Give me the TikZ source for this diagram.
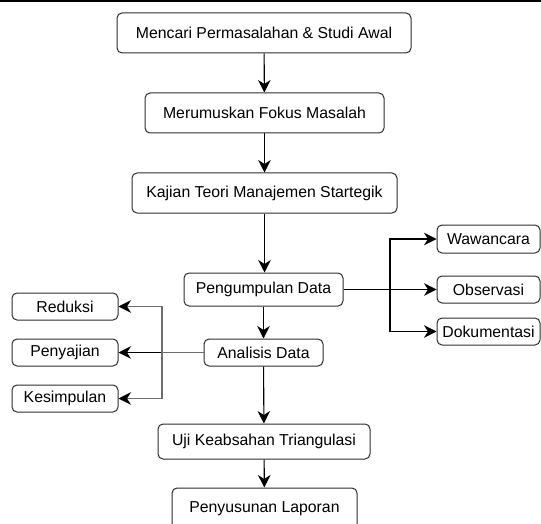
\documentclass[tikz,border=0pt]{standalone}
\usepackage{fontspec}
\setmainfont{Liberation Sans}
\usepackage{xcolor}
\usepackage{tikz}
\usetikzlibrary{arrows.meta,positioning}
\definecolor{boxline}{HTML}{2E2E2E}
\definecolor{grayline}{HTML}{6E6E6E}

\begin{document}
\begin{tikzpicture}[
 x=1pt,y=-1pt,
 font=\fontsize{15.8}{18}\selectfont,
 box/.style={draw=boxline,fill=white,line width=1pt,rounded corners=5pt,inner sep=0pt,align=center},
 arr/.style={-{Stealth[length=12.5pt,width=12.5pt,inset=4pt,color=black]},line width=1.1pt,draw=black},
 garr/.style={arr,draw=grayline}
]
\useasboundingbox (0,0) rectangle (541,524);
\fill[black] (0,0) rectangle (541,2.5);
% main column
\node[box,minimum width=294pt,minimum height=40pt] (mencari) at (264,33) {Mencari Permasalahan \& Studi Awal};
\node[box,minimum width=239pt,minimum height=40pt] (rumus) at (264.5,113) {Merumuskan Fokus Masalah};
\node[box,minimum width=265pt,minimum height=40pt] (kajian) at (264.5,193) {Kajian Teori Manajemen Startegik};
\node[box,minimum width=159pt,minimum height=33pt] (kumpul) at (263.5,289.5) {Pengumpulan Data};
\node[box,minimum width=119pt,minimum height=27pt] (analisis) at (263.5,352.5) {Analisis Data};
\node[box,minimum width=212pt,minimum height=35pt] (uji) at (264,441.5) {Uji Keabsahan Triangulasi};
\node[box,minimum width=185pt,minimum height=42pt] (susun) at (264.5,509) {Penyusunan Laporan};
% teknik pengumpulan
\node[box,minimum width=103pt,minimum height=28pt] (wawan) at (488.5,239) {Wawancara};
\node[box,minimum width=103pt,minimum height=27pt] (obs) at (488.5,289.5) {Observasi};
\node[box,minimum width=103pt,minimum height=27pt] (dok) at (488.5,331.5) {Dokumentasi};
% tahap analisis
\node[box,minimum width=106pt,minimum height=27pt] (reduksi) at (65,306.5) {Reduksi};
\node[box,minimum width=106pt,minimum height=27pt] (sajian) at (65,352.5) {Penyajian};
\node[box,minimum width=106pt,minimum height=27pt] (simpul) at (65,398.5) {Kesimpulan};

\draw[arr] (mencari)--(rumus); \draw[arr] (rumus)--(kajian);
\draw[arr] (kajian.south)--(kumpul.north -| kajian.south);
\draw[arr] (kumpul)--(analisis); \draw[arr] (analisis)--(uji); \draw[arr] (uji)--(susun);
\draw[arr] (kumpul.east) -- (390,289.5) |- (wawan.west);
\draw[arr] (kumpul.east) -- (obs.west);
\draw[arr] (kumpul.east) -- (390,289.5) |- (dok.west);
\draw[arr] (analisis.west) -- (sajian.east);
\draw[garr] (analisis.west) -- (162,352.5) |- (reduksi.east);
\draw[garr] (analisis.west) -- (162,352.5) |- (simpul.east);
\end{tikzpicture}
\end{document}
